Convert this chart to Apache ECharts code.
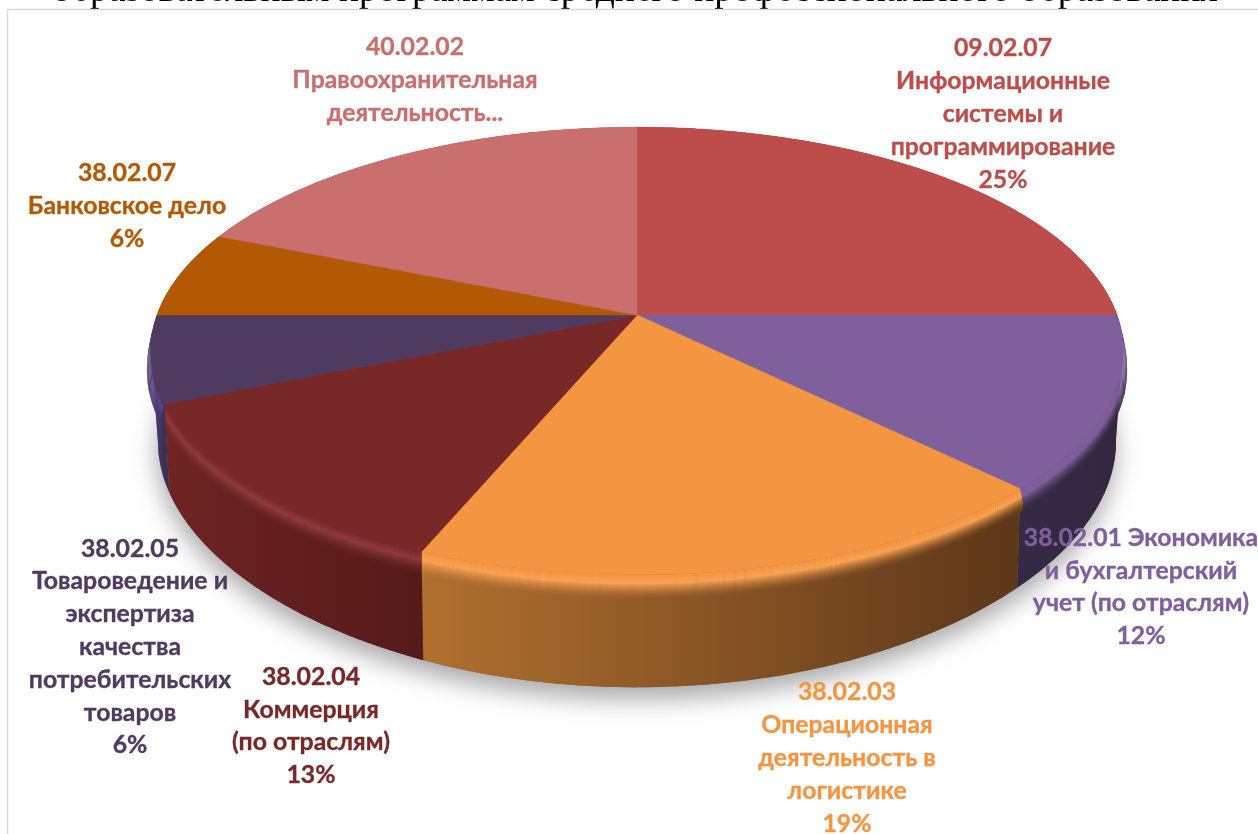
<!DOCTYPE html>
<html><head><meta charset="utf-8">
<style>html,body{margin:0;padding:0;background:#fff}#c{width:1258px;height:834px}</style>
<script src="https://cdn.jsdelivr.net/npm/echarts@6/dist/echarts.min.js"></script>
</head><body><div id="c"></div>
<script>
// DATA (clockwise from 12 o'clock)
const categories = [
  '09.02.07\nИнформационные\nсистемы и\nпрограммирование',
  '38.02.01 Экономика\nи бухгалтерский\nучет (по отраслям)',
  '38.02.03\nОперационная\nдеятельность в\nлогистике',
  '38.02.04\nКоммерция\n(по отраслям)',
  '38.02.05\nТовароведение и\nэкспертиза\nкачества\nпотребительских\nтоваров',
  '38.02.07\nБанковское дело',
  '40.02.02\nПравоохранительная\nдеятельность...'
];
const values = [25, 12.49, 18.75, 12.51, 6.25, 6.25, 18.75];
const showPercent = [true, true, true, true, true, true, false];
const titleText = 'образовательным программам среднего профессионального образования';

// STYLE
const faceColors = ['#BC4D4B','#7F609C','#F49542','#792828','#4F3A60','#B35803','#C96F6E'];
const labelColors = ['#BC4D4B','#7F609C','#F49542','#792828','#4F3A60','#B35803','#C96F6E'];
const wallLeft  = ['#3a2a40','#352a45','#B0702F','#6E2423','#463868','#5e3010','#6a3a3a'];
const wallRight = ['#2e2540','#33283F','#5C3719','#551A1A','#3A2E55','#5e3010','#6a3a3a'];
const rimGlow   = ['#BC4D4B','#7F609C','#F9A252','#8F3A3D','#5C4788','#B35803','#C96F6E'];
const labelX = [1003,1141,847,311,130,127,415];
const labelY = [114,587,758,726,647,206,80];

// PROJECTION of the pie disc: top face and bottom face
const TOP = {cx:637, cy:315, rx:480, a:218, k:0.161, fall:0};
const BOT = {cx:637, cy:396, rx:470, a:233, k:0.2, fall:14};
const rimDepth = 112, bulge = 6;
const total = values.reduce((s,v)=>s+v,0);
const cumulative = [];
values.reduce((s,v,i)=>{cumulative[i]=s;return s+v;},0);
const ang = p => p/total*2*Math.PI;
function disc(P,theta){
  const u=Math.sin(theta), v=-Math.cos(theta), d=1-P.k*v;
  const q=Math.min(1,Math.max(0,v/0.9)), rx=P.rx-P.fall*q*q;
  return [P.cx+rx*u/d, P.cy+P.a*v/d];
}
function arcAt(t0,t1,f){
  const n=Math.max(2,Math.ceil((t1-t0)/0.015)), out=[];
  const b=bulge*Math.sin(Math.PI*Math.min(f/0.6,1));
  for(let i=0;i<=n;i++){
    const t=t0+(t1-t0)*i/n, A=disc(TOP,t), B=disc(BOT,t);
    out.push([A[0]+(B[0]-A[0])*f+b*Math.sin(t), A[1]+(B[1]-A[1])*f]);
  }
  return out;
}
const hex=c=>[1,3,5].map(i=>parseInt(c.substr(i,2),16));
const mix=(a,b,t)=>{const A=hex(a),B=hex(b);return '#'+A.map((x,i)=>Math.round(x+(B[i]-x)*t).toString(16).padStart(2,'0')).join('');};
const band=(t0,t1,f0,f1)=>arcAt(t0,t1,f0).concat(arcAt(t0,t1,f1).reverse());
function hGrad(t0,t1,c0,c1){
  const a=arcAt(t0,t1,0), x0=a[0][0], x1=a[a.length-1][0];
  const lo=Math.min(x0,x1), hi=Math.max(x0,x1);
  return {type:'linear',x:lo,y:0,x2:hi===lo?lo+1:hi,y2:0,global:true,
    colorStops:[{offset:0,color:c0},{offset:1,color:c1}]};
}
function shadowItem(){
  return {type:'polygon',shape:{points:arcAt(0,2*Math.PI,1)},
    style:{fill:'#777',shadowBlur:24,shadowColor:'rgba(0,0,0,0.34)',shadowOffsetY:12,shadowOffsetX:-1}};
}
function wallItem(params){
  const i=params.dataIndex, t0=ang(cumulative[i]), t1=t0+ang(values[i]);
  const front=-Math.cos((t0+t1)/2);
  const kids=[];
  // The wall folds over itself at the silhouette, so it is filled in short overlapping pieces;
  // each step is cut into a series of stacked lengths of wall, the wall running from the rim down.
  const pieces=Math.ceil((t1-t0)/0.14);
  const stepEnds=[];
  for(let d=0;d<24;d++) stepEnds.push((d+1.6)/rimDepth);
  for(let d=-1;d<24;d++){
    let c0,c1;
    if(d<0){ c0=wallLeft[i]; c1=wallRight[i]; }
    else if(d<8){ c0=c1=mix(faceColors[i],rimGlow[i],d/8); }
    else { const g=Math.pow(1-(d-8)/16,1.6); c0=mix(wallLeft[i],rimGlow[i],g); c1=mix(wallRight[i],rimGlow[i],g); }
    const fill=hGrad(t0,t1,c0,c1);
    const f0=d<0?0:d/rimDepth, f1=d<0?1:stepEnds[d];
    for(let p=0;p<pieces;p++){
      const a=t0+(t1-t0)*p/pieces, b=Math.min(t1,t0+(t1-t0)*(p+1)/pieces+0.012);
      kids.push({type:'polygon',shape:{points:band(a,b,f0,f1)},style:{fill:fill}});
    }
  }
  return {type:'group',z2:Math.round(front*100),children:kids};
}
function faceItem(params){
  const i=params.dataIndex, t0=ang(cumulative[i]), t1=t0+ang(values[i]);
  const pts=[[TOP.cx,TOP.cy]].concat(arcAt(t0,t1,0));
  return {type:'polygon',shape:{points:pts},style:{fill:faceColors[i],stroke:faceColors[i],lineWidth:0.6}};
}
function labelItem(params){
  const i=params.dataIndex;
  const txt=categories[i]+(showPercent[i]?'\n'+Math.round(values[i]/total*100)+'%':'');
  return {type:'text',x:labelX[i],y:labelY[i],
    style:{text:txt,fill:labelColors[i],stroke:labelColors[i],lineWidth:0.35,align:'center',verticalAlign:'middle',
      font:'bold 24.8px Lato, "Open Sans", sans-serif',lineHeight:32.8}};
}
const chart=echarts.init(document.getElementById('c'),null,{renderer:'canvas'});
chart.setOption({
  animation:false,backgroundColor:'#fff',
  graphic:{elements:[
    {type:'text',x:635,y:-9,z:-2,style:{text:titleText,align:'center',verticalAlign:'middle',fill:'#000',font:'37.5px "Liberation Serif", serif'}},
    {type:'rect',z:-1,shape:{x:7.5,y:9.5,width:1300,height:900},style:{fill:'#fff',stroke:'#d9d9d9',lineWidth:1.5}}
  ]},
  series:[
    {type:'custom',coordinateSystem:'none',silent:true,z:2,data:[0],renderItem:shadowItem},
    {type:'custom',coordinateSystem:'none',silent:true,z:3,data:values,renderItem:wallItem},
    {type:'custom',coordinateSystem:'none',silent:true,z:4,data:values,renderItem:faceItem},
    {type:'custom',coordinateSystem:'none',silent:true,z:5,data:values,renderItem:labelItem}
  ]
});
</script></body></html>
